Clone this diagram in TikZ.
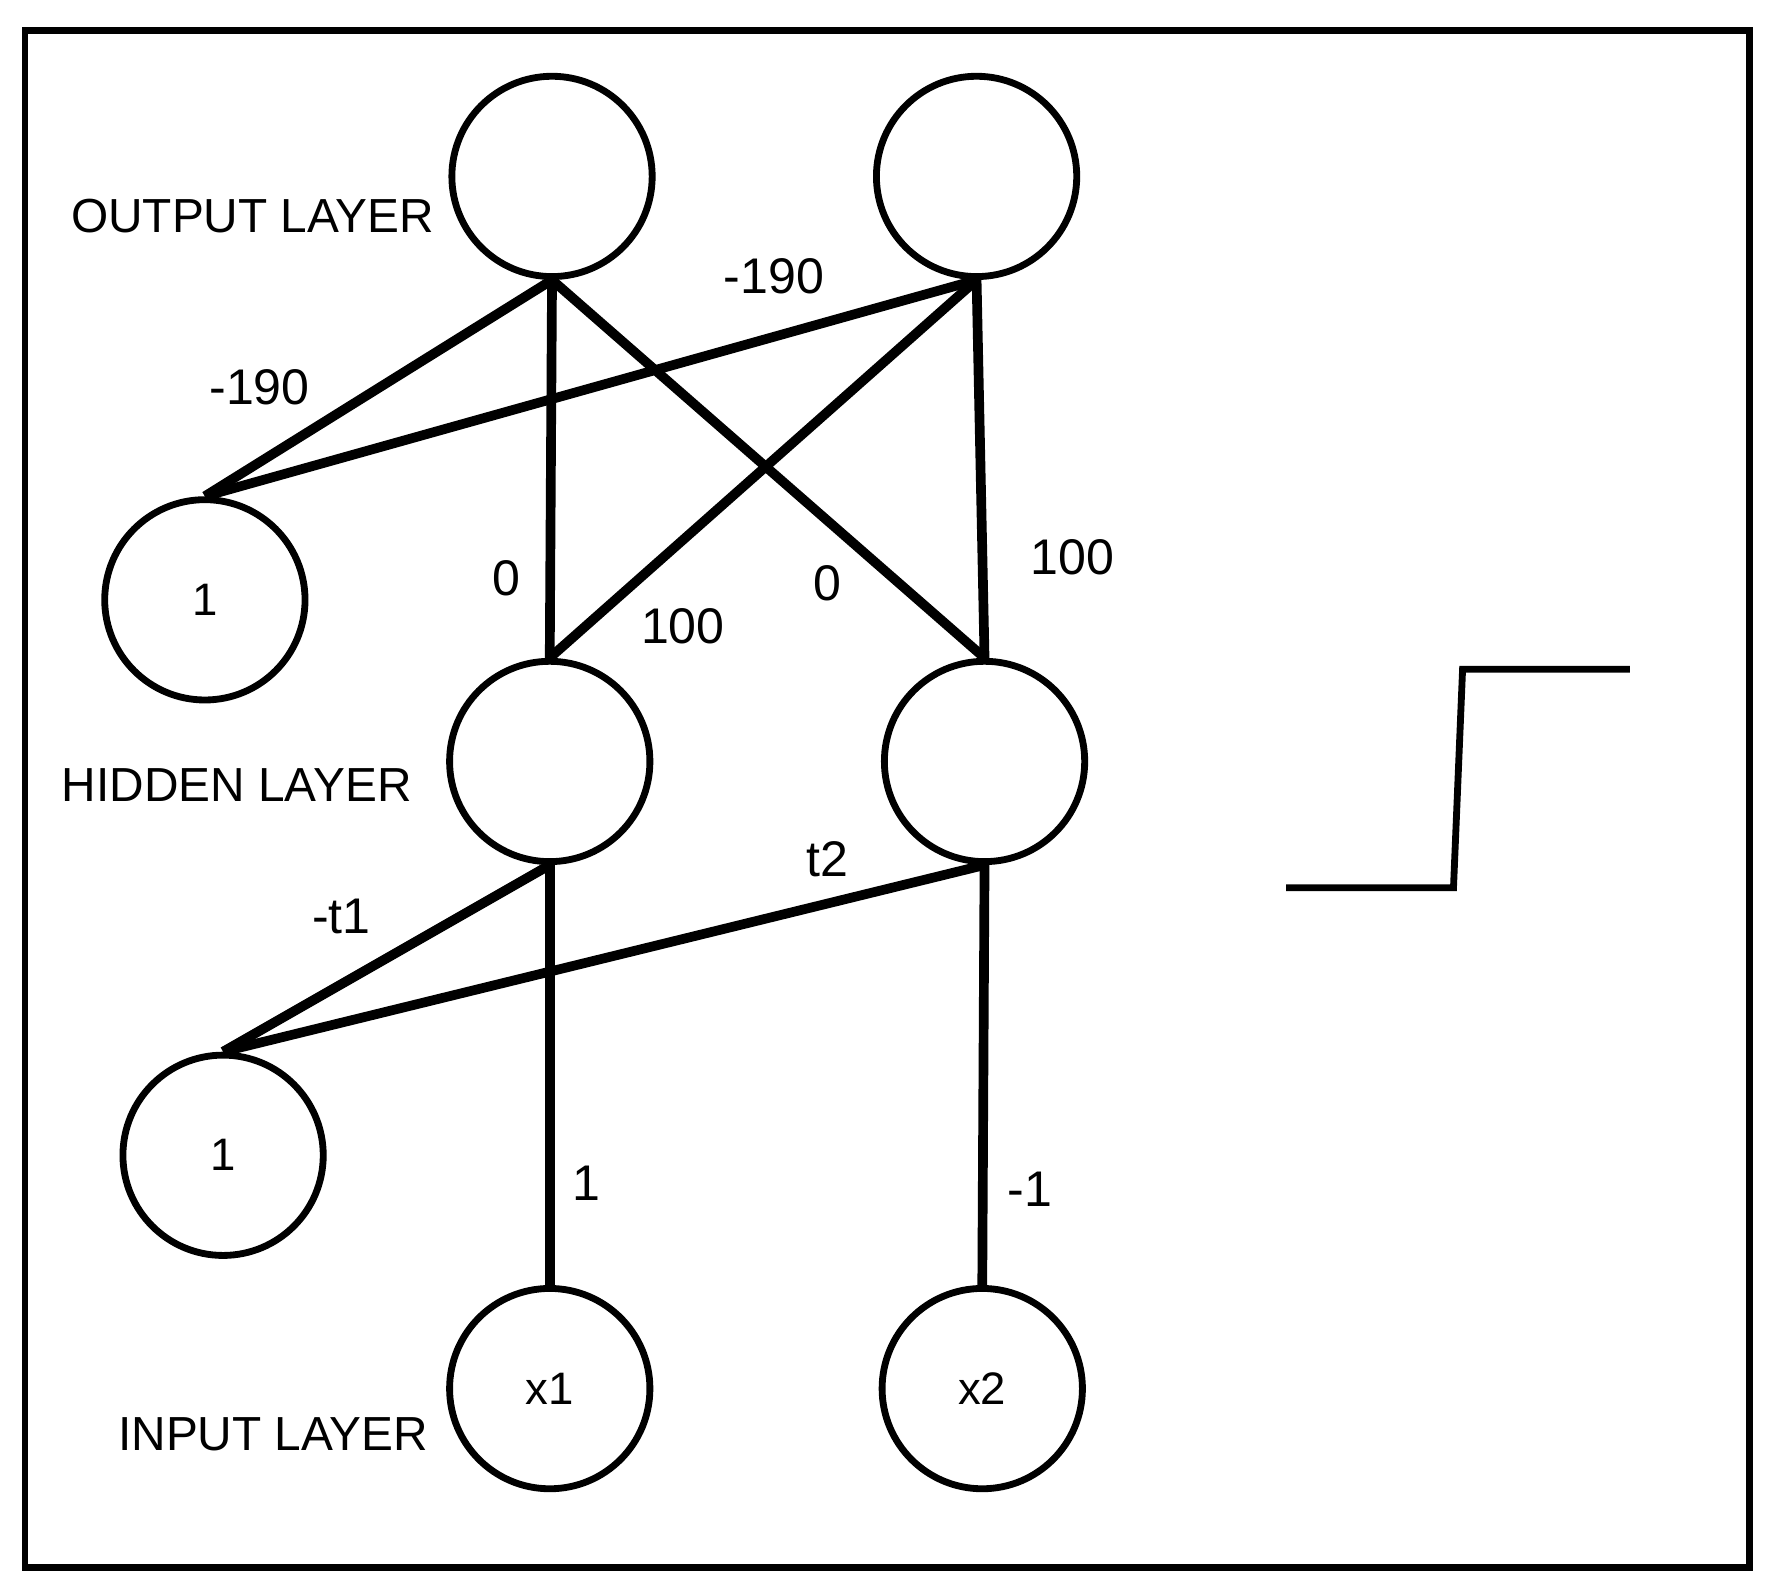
\documentclass[tikz,border=0pt]{standalone}
\usepackage{fontspec}
\setmainfont{Liberation Sans}
\begin{document}
\begin{tikzpicture}[x=1pt,y=-1pt,
  neuron/.style={circle,draw,line width=6pt,minimum size=176pt,inner sep=0pt,font=\fontsize{40}{46}\selectfont},
  edge/.style={line width=8.5pt},
  lbl/.style={font=\fontsize{42}{48}\selectfont,inner sep=0pt},
  wt/.style={font=\fontsize{44}{50}\selectfont,inner sep=0pt}]
\useasboundingbox (0,0) rectangle (1563,1397);
\draw[line width=6pt] (22,27) rectangle (1537,1377);
\node[neuron] (o1) at (485,155) {};
\node[neuron] (o2) at (858,155) {};
\node[neuron] (b1) at (180,527) {1};
\node[neuron] (h1) at (483,669) {};
\node[neuron] (h2) at (865,669) {};
\node[neuron] (b2) at (196,1015) {1};
\node[neuron] (x1) at (483,1220) {x1};
\node[neuron] (x2) at (863,1220) {x2};
\draw[edge] (o1.south) -- (b1.north);
\draw[edge] (o2.south) -- (b1.north);
\draw[edge] (o1.south) -- (h1.north);
\draw[edge] (o1.south) -- (h2.north);
\draw[edge] (o2.south) -- (h1.north);
\draw[edge] (o2.south) -- (h2.north);
\draw[edge] (h1.south) -- (b2.north);
\draw[edge] (h2.south) -- (b2.north);
\draw[edge] (h1.south) -- (x1.north);
\draw[edge] (h2.south) -- (x2.north);
\node[lbl] (lo) at (222,190) {OUTPUT LAYER};
\node[lbl] (lh) at (208,690) {HIDDEN LAYER};
\node[lbl] (li) at (240,1260) {INPUT LAYER};
\node[wt] (w1) at (228,340) {-190};
\node[wt] (w2) at (680,243) {-190};
\node[wt] (w3) at (445,508) {0};
\node[wt] (w4) at (600,550) {100};
\node[wt] (w5) at (727,512) {0};
\node[wt] (w6) at (942,490) {100};
\node[wt] (w7) at (727,755) {t2};
\node[wt] (w8) at (300,805) {-t1};
\node[wt] (w9) at (515,1040) {1};
\node[wt] (w10) at (905,1045) {-1};
\coordinate (s1) at (1130,780);
\coordinate (s2) at (1277,780);
\coordinate (s3) at (1285,588);
\coordinate (s4) at (1432,588);
\draw[line width=6pt] (s1) -- (s2) -- (s3) -- (s4);
\end{tikzpicture}
\end{document}
